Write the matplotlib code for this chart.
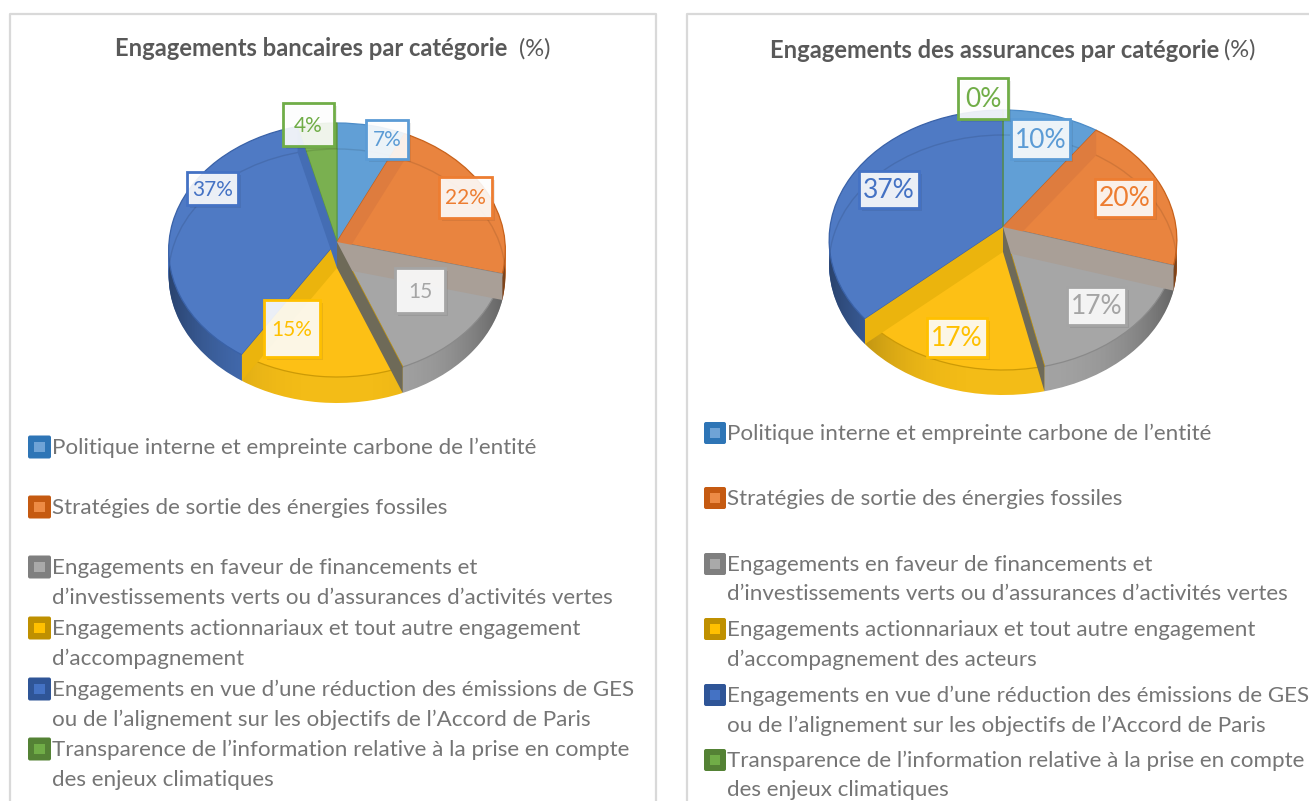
import numpy as np
import matplotlib
matplotlib.use("Agg")
import matplotlib.pyplot as plt
from matplotlib.patches import Circle, Rectangle, FancyBboxPatch
from matplotlib.patheffects import withSimplePatchShadow
from matplotlib.transforms import Affine2D, Transform

plt.rcParams['font.family'] = ['Lato', 'DejaVu Sans']

bank_values = [7, 22, 15, 15, 37, 4]
bank_labels = ["7%", "22%", "15", "15%", "37%", "4%"]
insurance_values = [10, 20, 17, 17, 37, 0]
insurance_labels = ["10%", "20%", "17%", "17%", "37%", "0%"]

bank_legend = [
    "Politique interne et empreinte carbone de l’entité",
    "Stratégies de sortie des énergies fossiles",
    "Engagements en faveur de financements et\nd’investissements verts ou d’assurances d’activités vertes",
    "Engagements actionnariaux et tout autre engagement\nd’accompagnement",
    "Engagements en vue d’une réduction des émissions de GES\nou de l’alignement sur les objectifs de l’Accord de Paris",
    "Transparence de l’information relative à la prise en compte\ndes enjeux climatiques",
]
insurance_legend = list(bank_legend)
insurance_legend[3] = "Engagements actionnariaux et tout autre engagement\nd’accompagnement des acteurs"

top_colors = ["#619FD6", "#E9843F", "#A6A6A6", "#FDC015", "#4F7AC4", "#7AB050"]
side_colors = ["#4F8CC6", "#D0702E", "#A4A4A4", "#F3BC17", "#4670B8", "#5F9A3A"]
wall_colors = ["#DE7C3E", "#A99F97", "#6E6A58", "#EBB40D", "#446DB4", "#4C86C4"]
edge_colors = ["#4C8CC8", "#C8621C", "#8A8A8A", "#CC9A06", "#3A62A8", "#5F9A3A"]
box_colors = ["#5B9BD5", "#ED7D31", "#A5A5A5", "#FFC000", "#4472C4", "#70AD47"]
marker_edges = ["#2E75B6", "#C55A11", "#7F7F7F", "#BF9000", "#2F5597", "#548235"]
marker_fills = ["#6FA3D6", "#ED8B45", "#A9A9A9", "#FFC000", "#4472C4", "#70AD47"]


class Perspective(Transform):
    input_dims = 2
    output_dims = 2

    def __init__(self, cx, cy, rx, ry, tilt):
        super().__init__()
        self.cx, self.cy, self.rx, self.ry, self.tilt = cx, cy, rx, ry, tilt

    def transform_non_affine(self, values):
        values = np.asarray(values, dtype=float)
        w = 1 + self.tilt * values[:, 1]
        return np.column_stack([self.cx + self.rx * values[:, 0] / w,
                                self.cy - self.ry * values[:, 1] / w])


fig = plt.figure(figsize=(13.09, 8.01), dpi=100)
ax = fig.add_axes([0, 0, 1, 1])
ax.set_axis_off()


def draw_pie(values, colors, tf, edges=None):
    props = dict(linewidth=0.9 if edges else 0, edgecolor="none")
    wedges, _ = ax.pie(values, colors=colors, startangle=90, counterclock=False,
                       wedgeprops=props)
    for i, w in enumerate(wedges):
        w.set_transform(tf + ax.transData)
        if edges:
            w.set_edgecolor(edges[i])
    return wedges


def pie_3d(values, persp, depth):
    # side of the cake, stacked layers from the bottom up
    for s in range(depth, 0, -1):
        draw_pie(values, side_colors, persp + Affine2D().translate(0, s))

    # shading on the side, darker towards both ends
    low = Circle((0, 0), 1, facecolor="none", edgecolor="none",
                 transform=persp + Affine2D().translate(0, depth) + ax.transData)
    ax.add_patch(low)
    grad = np.zeros((1, 200, 4))
    grad[0, :, 3] = 0.42 * np.abs(np.linspace(-1, 1, 200)) ** 3
    x0, x1 = persp.cx - persp.rx - 3, persp.cx + persp.rx + 3
    img = ax.imshow(grad, extent=(x0, x1, persp.cy + 200, persp.cy - 200), aspect="auto", zorder=1)
    img.set_clip_path(low)

    draw_pie(values, top_colors, persp, edges=edge_colors)

    # bevel line: the rim of the disc seen through the top
    disc = Circle((0, 0), 1, facecolor="none", edgecolor="none", transform=persp + ax.transData)
    ax.add_patch(disc)
    rim = Circle((0, 0), 1, facecolor="none", edgecolor="#000000", alpha=0.1, linewidth=1,
                 transform=persp + Affine2D().translate(0, depth) + ax.transData)
    ax.add_patch(rim)
    rim.set_clip_path(disc)

    # cut faces between slices, seen through the top
    ends = np.cumsum(values) / np.sum(values) * 2 * np.pi
    apex = persp.transform(np.array([[0.0, 0.0]]))[0]
    for angle, col in zip(ends, wall_colors):
        edge = persp.transform(np.array([[np.sin(angle), np.cos(angle)]]))[0]
        ax.fill([apex[0], edge[0], edge[0], apex[0]],
                [apex[1], edge[1], edge[1] + depth, apex[1] + depth],
                color=col, linewidth=0)


def value_boxes(labels, boxes, fontsize):
    for label, (x0, y0, x1, y1), col in zip(labels, boxes, box_colors):
        ax.add_patch(Rectangle((x0, y0), x1 - x0, y1 - y0, facecolor="white", alpha=0.12, linewidth=0,
                               path_effects=[withSimplePatchShadow(offset=(2, -2), shadow_rgbFace="#000000", alpha=0.07)]))
        ax.add_patch(Rectangle((x0, y0), x1 - x0, y1 - y0, facecolor=(1, 1, 1, 0.88), edgecolor=col, linewidth=2))
        ax.text((x0 + x1) / 2, (y0 + y1) / 2 + 1, label, color=col, fontsize=fontsize, ha="center", va="center")


def legend_rows(lines, rows, marker_x, marker_size, text_x):
    for line, y, edge, fill in zip(lines, rows, marker_edges, marker_fills):
        ax.add_patch(FancyBboxPatch((marker_x + 2, y - marker_size / 2 + 2), marker_size - 4, marker_size - 4,
                                    boxstyle="round,pad=2,rounding_size=2", facecolor=edge, edgecolor="none"))
        ax.add_patch(Rectangle((marker_x + marker_size * 0.28, y - marker_size * 0.22), marker_size * 0.44, marker_size * 0.44,
                               facecolor=fill, edgecolor="none"))
        for i, part in enumerate(line.split("\n")):
            ax.text(text_x, y + 1 + i * 29.5, part, color="#757575", fontsize=16.1, ha="left", va="center")


persp_left = Perspective(337, 242, 168, 126.5, 0.063)
persp_right = Perspective(1003, 227, 173, 128.7, 0.10)
pie_3d(bank_values, persp_left, 26)
pie_3d(insurance_values, persp_right, 25)

ax.set_xlim(0, 1309)
ax.set_ylim(801, 0)
ax.set_aspect("auto")

value_boxes(bank_labels,
            [(366, 120, 408, 159), (439, 177, 492, 218), (395, 268, 445, 313),
             (264, 300, 320, 357), (187, 172, 238, 205), (283, 103, 334, 146)], 15)
value_boxes(insurance_labels,
            [(1011, 119, 1070, 159), (1095, 179, 1154, 217), (1067, 287, 1126, 325),
             (927, 318, 987, 357), (859, 171, 919, 208), (958, 78, 1008, 119)], 19)

legend_rows(bank_legend, [447, 507, 567, 628, 689, 749], 28, 23, 52)
legend_rows(insurance_legend, [433, 498, 564, 629, 695, 760], 704, 22, 727)

ax.text(115, 49, "Engagements bancaires par catégorie", color="#595959", fontsize=17.1, fontweight="bold", va="center")
ax.text(519, 49, "(%)", color="#595959", fontsize=17, va="center")
ax.text(770, 50, "Engagements des assurances par catégorie", color="#595959", fontsize=17.1, fontweight="bold", va="center")
ax.text(1224, 50, "(%)", color="#595959", fontsize=17, va="center")

# panel frames, they run off the bottom of the picture
ax.plot([10, 10, 656, 656], [801, 14, 14, 801], color="#D9D9D9", linewidth=1.6)
ax.plot([687, 687, 1309], [801, 14, 14], color="#D9D9D9", linewidth=1.6)

plt.savefig("out.png", dpi=100)
